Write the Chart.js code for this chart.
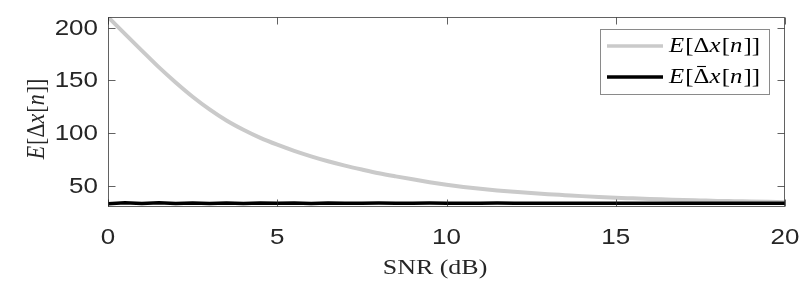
<!DOCTYPE html>
<html>
<head>
<meta charset="utf-8">
<script src="https://cdn.jsdelivr.net/npm/chart.js@4/dist/chart.umd.min.js"></script>
<style>
html,body{margin:0;padding:0;background:#fff;}
canvas{display:block;}
</style>
</head>
<body>
<canvas id="c" width="811" height="288"></canvas>
<script>
// ---- data ----
const snr = [0,0.5,1,1.5,2,2.5,3,3.5,4,4.5,5,5.5,6,6.5,7,7.5,8,8.5,9,9.5,10,
             10.5,11,11.5,12,12.5,13,13.5,14,14.5,15,15.5,16,16.5,17,17.5,18,18.5,19,19.5,20];
const errPlain = [210,194,178.2,162.5,148,134.5,122.5,112,103.2,95.5,89,83.2,78,73.3,69.2,65.5,62,59,56.2,53.5,51.1,
                  49,47.2,45.7,44.4,43.2,42.1,41.2,40.3,39.5,38.8,38.2,37.6,37.1,36.6,36.2,35.8,35.5,35.2,34.9,34.6];
const errBar = [33.1,34.0,33.3,34.1,33.2,33.9,33.4,33.9,33.3,33.8,33.5,33.8,33.4,33.7,33.6,33.5,33.7,33.6,33.5,33.7,33.6,
                33.6,33.5,33.7,33.6,33.6,33.5,33.6,33.6,33.5,33.6,33.6,33.5,33.6,33.6,33.5,33.6,33.6,33.6,33.5,33.6];
const xTicks = [0,5,10,15,20];
const yTicks = [50,100,150,200];
const xTitle = 'SNR (dB)';

// ---- styling helpers ----
const SX = 1.18;          // horizontal stretch of the reference's text
const AX = '#262626';
const SERIF = 'Liberation Serif';
const SANS = 'Liberation Sans';

function mathPieces(bar){
  return [
    {t:'E', it:true},{t:'['},{t:'\u0394', bar:bar},{t:'x', it:true},{t:'['},{t:'n', it:true},{t:']]'}
  ];
}
function pieceFont(p,size){ return (p.it?'italic ':'') + size + 'px "' + SERIF + '"'; }
function mathWidth(ctx,pieces,size){
  let w=0; pieces.forEach(p=>{ctx.font=pieceFont(p,size); w+=ctx.measureText(p.t).width + (p.it?1:0);}); return w;
}
function drawMath(ctx,pieces,size){
  let x=0;
  ctx.textBaseline='middle'; ctx.textAlign='left';
  pieces.forEach(p=>{
    ctx.font=pieceFont(p,size);
    ctx.fillText(p.t,x,0);
    const w=ctx.measureText(p.t).width;
    if(p.bar){
      ctx.save(); ctx.lineWidth=1.1; ctx.strokeStyle=ctx.fillStyle;
      ctx.beginPath(); ctx.moveTo(x+3,-size*0.5); ctx.lineTo(x+w-3,-size*0.5); ctx.stroke(); ctx.restore();
    }
    x+=w+(p.it?1:0);
  });
}

const decor = {
  id:'decor',
  afterDraw(chart){
    const ctx=chart.ctx, a=chart.chartArea, xs=chart.scales.x, ys=chart.scales.y;
    ctx.save();
    ctx.strokeStyle='rgba(38,38,38,0.72)'; ctx.lineWidth=1;
    const L=Math.round(a.left)+0.5, R=Math.round(a.right)-0.5, T=Math.round(a.top)+0.5, B=Math.round(a.bottom)-0.5;
    ctx.strokeRect(L,T,R-L,B-T);
    ctx.beginPath();
    xTicks.forEach(v=>{const px=Math.round(xs.getPixelForValue(v))+0.5; ctx.moveTo(px,B); ctx.lineTo(px,B-7); ctx.moveTo(px,T); ctx.lineTo(px,T+7);});
    yTicks.forEach(v=>{const py=Math.round(ys.getPixelForValue(v))+0.5; ctx.moveTo(L,py); ctx.lineTo(L+7,py); ctx.moveTo(R,py); ctx.lineTo(R-7,py);});
    ctx.stroke();
    ctx.fillStyle=AX; ctx.font='22px "'+SANS+'"'; ctx.textBaseline='middle';
    yTicks.forEach(v=>{
      const py=ys.getPixelForValue(v);
      ctx.save(); ctx.translate(98,py+1); ctx.scale(SX,1); ctx.textAlign='right'; ctx.fillText(String(v),0,0); ctx.restore();
    });
    xTicks.forEach(v=>{
      const px=xs.getPixelForValue(v);
      ctx.save(); ctx.translate(px,238); ctx.scale(SX,1); ctx.textAlign='center'; ctx.fillText(String(v),0,0); ctx.restore();
    });
    ctx.save(); ctx.translate(435,268); ctx.scale(SX,1); ctx.font='22px "'+SERIF+'"'; ctx.textAlign='center'; ctx.textBaseline='middle';
    ctx.fillText(xTitle,0,0); ctx.restore();
    const yp=mathPieces(false), ysz=22, yw=mathWidth(ctx,yp,ysz);
    ctx.save(); ctx.translate(37,119); ctx.rotate(-Math.PI/2); ctx.scale(1,SX); ctx.translate(-yw/2,0);
    ctx.fillStyle=AX; drawMath(ctx,yp,ysz); ctx.restore();
    ctx.fillStyle='#fff'; ctx.fillRect(600,29,169,65);
    ctx.strokeStyle='#8a8a8a'; ctx.lineWidth=1; ctx.strokeRect(600.5,29.5,169,65);
    const rows=[{y:46,ds:0,bar:false},{y:77,ds:1,bar:true}];
    rows.forEach(r=>{
      const ds=chart.data.datasets[r.ds];
      ctx.strokeStyle=ds.borderColor; ctx.lineWidth=3.5;
      ctx.beginPath(); ctx.moveTo(607,r.y); ctx.lineTo(663,r.y); ctx.stroke();
      ctx.save(); ctx.translate(669,r.y); ctx.scale(SX,1); ctx.fillStyle='#000';
      drawMath(ctx,mathPieces(r.bar),21); ctx.restore();
    });
    ctx.restore();
  }
};

function build(){
  new Chart(document.getElementById('c'),{
    type:'line',
    data:{
      datasets:[
        {label:'E[Δx[n]]', data:snr.map((s,i)=>({x:s,y:errPlain[i]})), borderColor:'#cacaca', borderWidth:4, pointRadius:0, cubicInterpolationMode:'monotone', order:1},
        {label:'E[Δ̄x[n]]', data:snr.map((s,i)=>({x:s,y:errBar[i]})), borderColor:'#000000', borderWidth:3.5, pointRadius:0, tension:0, order:0}
      ]
    },
    options:{
      responsive:false, animation:false, devicePixelRatio:1,
      layout:{padding:{left:0,right:26,top:17,bottom:0}},
      plugins:{legend:{display:false}, tooltip:{enabled:false}},
      scales:{
        x:{type:'linear',min:0,max:20,grid:{display:false},border:{display:false},ticks:{display:false},
           afterBuildTicks:s=>{s.ticks=xTicks.map(v=>({value:v}));}, afterFit:s=>{s.height=81;}},
        y:{min:30,max:210,grid:{display:false},border:{display:false},ticks:{display:false},
           afterBuildTicks:s=>{s.ticks=yTicks.map(v=>({value:v}));}, afterFit:s=>{s.width=108;}}
      }
    },
    plugins:[decor]
  });
}
Promise.all([
  document.fonts.load('22px "Liberation Sans"'),
  document.fonts.load('22px "Liberation Serif"'),
  document.fonts.load('italic 22px "Liberation Serif"')
]).then(build, build);
</script>
</body>
</html>
